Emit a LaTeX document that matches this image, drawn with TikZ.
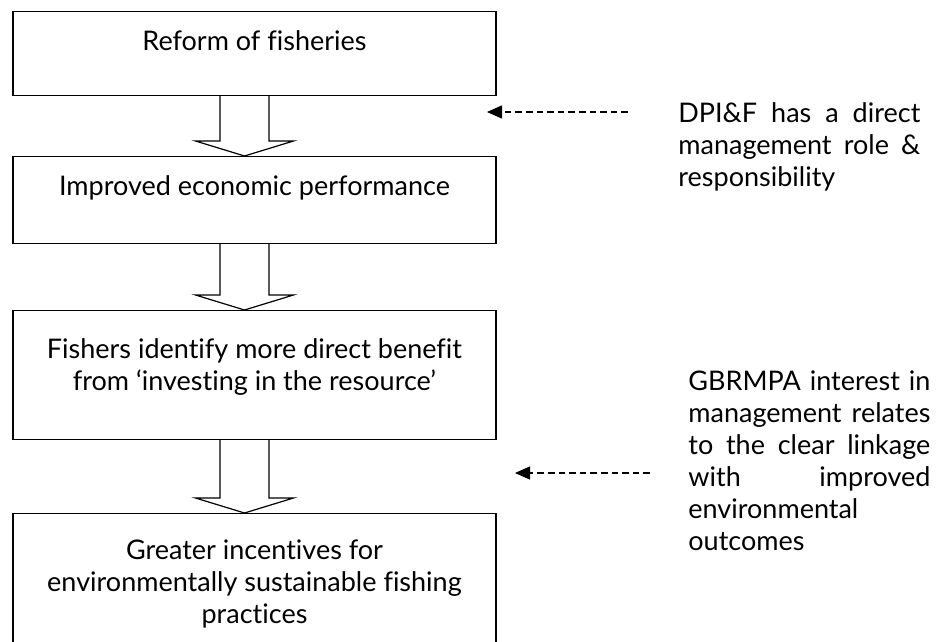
\documentclass[tikz,border=0pt]{standalone}
\usepackage{fontspec}
\setmainfont{Lato}[Ligatures={TeX,NoCommon}]
\usetikzlibrary{calc,arrows.meta}

\newcommand{\boxtext}[3]{\parbox[c][#1][t]{241.5pt}{\centering\rule{0pt}{#2}#3}}
\newcommand{\fullline}[1]{{\spaceskip=.3em plus 1fil\makebox[121pt][s]{#1}}}
\newcommand{\hollowarrow}[2]{%
        \draw[hollow] ($(#1.south)+(-34.5,0)$) -- ($(#2.north)+(-34.5,-15)$)
                -- ($(#2.north)+(-59,-15)$) -- ($(#2.north)+(-10,0)$)
                -- ($(#2.north)+(39,-15)$) -- ($(#2.north)+(14.5,-15)$)
                -- ($(#1.south)+(14.5,0)$);}

\begin{document}
\begin{tikzpicture}[x=0.5pt,y=-0.5pt,
        stage/.style={draw,line width=0.6pt,inner sep=0pt,anchor=north,
                font=\fontsize{13.5}{16}\selectfont},
        note/.style={inner sep=0pt,anchor=north west,text width=121pt,align=left,
                font=\fontsize{13.5}{16}\selectfont},
        hollow/.style={draw,line width=0.6pt,line join=miter},
        hint/.style={line width=0.6pt,dash pattern=on 3.3pt off 2pt,
                -{Triangle[length=7.5pt,width=6.5pt]}}]

        \useasboundingbox (0,0) rectangle (948,642);
        \clip (0,0) rectangle (948,642);

        \node[stage] (reform) at (254.5,11) {\boxtext{42pt}{19.5pt}{Reform of fisheries}};
        \node[stage] (economic) at (254.5,156) {\boxtext{43.5pt}{19.5pt}{Improved economic performance}};
        \node[stage] (benefit) at (254.5,310) {\boxtext{64.5pt}{24pt}{Fishers identify more direct benefit\\ from ‘investing in the resource’}};
        \node[stage] (incentive) at (254.5,513) {\boxtext{75pt}{23pt}{Greater incentives for\\ environmentally sustainable fishing\\ practices}};

        \hollowarrow{reform}{economic}
        \hollowarrow{economic}{benefit}
        \hollowarrow{benefit}{incentive}

        \node[note] (dpi) at (678,98) {\rule{0pt}{12pt}\fullline{DPI\&F has a direct}\\ \fullline{management role \&}\\ responsibility};
        \node[note] (gbrmpa) at (688,366) {\rule{0pt}{12pt}\fullline{GBRMPA interest in}\\ \fullline{management relates}\\ \fullline{to the clear linkage}\\ \fullline{with improved}\\ environmental\\ outcomes};

        \coordinate (dpitail) at (628,112);
        \coordinate (dpitip) at (487,112);
        \coordinate (gbrmpatail) at (650,473);
        \coordinate (gbrmpatip) at (515,473);
        \draw[hint] (dpitail) -- (dpitip);
        \draw[hint] (gbrmpatail) -- (gbrmpatip);

\end{tikzpicture}
\end{document}
